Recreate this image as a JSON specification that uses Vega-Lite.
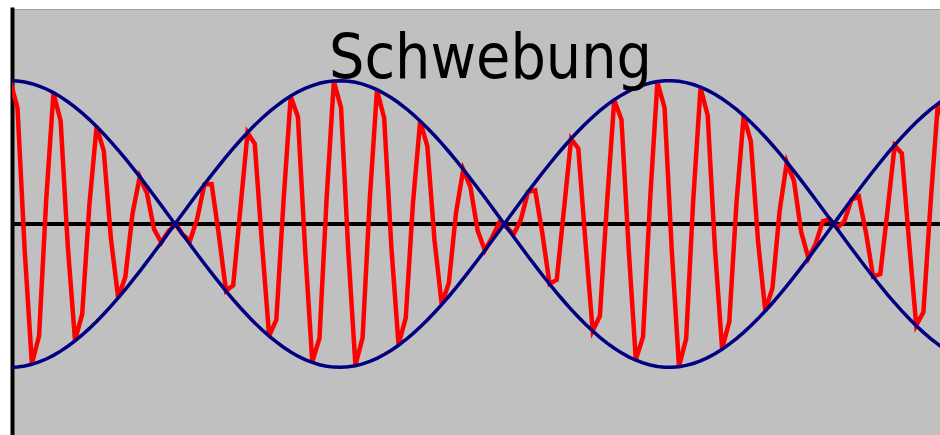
{
  "$schema": "https://vega.github.io/schema/vega-lite/v6.json",
  "width": 935,
  "height": 430,
  "autosize": {"type": "none"},
  "padding": {"left": 12, "top": 9, "right": 0, "bottom": 0},
  "background": "#ffffff",
  "title": {
    "text": "Schwebung",
    "font": "DejaVu Sans Condensed, DejaVu Sans",
    "fontSize": 62,
    "fontWeight": "normal",
    "color": "#000000",
    "anchor": "middle",
    "frame": "group",
    "baseline": "alphabetic",
    "offset": -72,
    "dx": 11,
    "dy": 59
  },
  "config": {
    "view": {"fill": "#c0c0c0", "stroke": "#a0a0a0", "strokeWidth": 1},
    "axisY": {
      "domain": true,
      "domainColor": "#000000",
      "domainWidth": 4,
      "domainCap": "square",
      "ticks": false,
      "labels": false,
      "grid": false
    }
  },
  "data": {
    "values": [
      {"t": 0, "signal": 1.992, "env_pos": 2.000, "env_neg": -2.000},
      {"t": 1, "signal": 1.620, "env_pos": 1.995, "env_neg": -1.995},
      {"t": 2, "signal": -0.365, "env_pos": 1.981, "env_neg": -1.981},
      {"t": 3, "signal": -1.950, "env_pos": 1.958, "env_neg": -1.958},
      {"t": 4, "signal": -1.563, "env_pos": 1.925, "env_neg": -1.925},
      {"t": 5, "signal": 0.347, "env_pos": 1.884, "env_neg": -1.884},
      {"t": 6, "signal": 1.826, "env_pos": 1.833, "env_neg": -1.833},
      {"t": 7, "signal": 1.440, "env_pos": 1.774, "env_neg": -1.774},
      {"t": 8, "signal": -0.314, "env_pos": 1.706, "env_neg": -1.706},
      {"t": 9, "signal": -1.624, "env_pos": 1.631, "env_neg": -1.631},
      {"t": 10, "signal": -1.257, "env_pos": 1.548, "env_neg": -1.548},
      {"t": 11, "signal": 0.268, "env_pos": 1.457, "env_neg": -1.457},
      {"t": 12, "signal": 1.355, "env_pos": 1.360, "env_neg": -1.360},
      {"t": 13, "signal": 1.020, "env_pos": 1.256, "env_neg": -1.256},
      {"t": 14, "signal": -0.211, "env_pos": 1.147, "env_neg": -1.147},
      {"t": 15, "signal": -1.027, "env_pos": 1.031, "env_neg": -1.031},
      {"t": 16, "signal": -0.741, "env_pos": 0.912, "env_neg": -0.912},
      {"t": 17, "signal": 0.145, "env_pos": 0.788, "env_neg": -0.788},
      {"t": 18, "signal": 0.657, "env_pos": 0.660, "env_neg": -0.660},
      {"t": 19, "signal": 0.430, "env_pos": 0.529, "env_neg": -0.529},
      {"t": 20, "signal": -0.073, "env_pos": 0.395, "env_neg": -0.395},
      {"t": 21, "signal": -0.259, "env_pos": 0.260, "env_neg": -0.260},
      {"t": 22, "signal": -0.100, "env_pos": 0.123, "env_neg": -0.123},
      {"t": 23, "signal": -0.003, "env_pos": -0.014, "env_neg": 0.014},
      {"t": 24, "signal": -0.150, "env_pos": -0.151, "env_neg": 0.151},
      {"t": 25, "signal": -0.233, "env_pos": -0.287, "env_neg": 0.287},
      {"t": 26, "signal": 0.078, "env_pos": -0.422, "env_neg": 0.422},
      {"t": 27, "signal": 0.553, "env_pos": -0.555, "env_neg": 0.555},
      {"t": 28, "signal": 0.556, "env_pos": -0.685, "env_neg": 0.685},
      {"t": 29, "signal": -0.149, "env_pos": -0.812, "env_neg": 0.812},
      {"t": 30, "signal": -0.932, "env_pos": -0.936, "env_neg": 0.936},
      {"t": 31, "signal": -0.857, "env_pos": -1.055, "env_neg": 1.055},
      {"t": 32, "signal": 0.215, "env_pos": -1.169, "env_neg": 1.169},
      {"t": 33, "signal": 1.272, "env_pos": -1.277, "env_neg": 1.277},
      {"t": 34, "signal": 1.121, "env_pos": -1.380, "env_neg": 1.380},
      {"t": 35, "signal": -0.272, "env_pos": -1.476, "env_neg": 1.476},
      {"t": 36, "signal": -1.559, "env_pos": -1.565, "env_neg": 1.565},
      {"t": 37, "signal": -1.337, "env_pos": -1.646, "env_neg": 1.646},
      {"t": 38, "signal": 0.316, "env_pos": -1.720, "env_neg": 1.720},
      {"t": 39, "signal": 1.779, "env_pos": -1.786, "env_neg": 1.786},
      {"t": 40, "signal": 1.497, "env_pos": -1.844, "env_neg": 1.844},
      {"t": 41, "signal": -0.348, "env_pos": -1.893, "env_neg": 1.893},
      {"t": 42, "signal": -1.924, "env_pos": -1.932, "env_neg": 1.932},
      {"t": 43, "signal": -1.594, "env_pos": -1.963, "env_neg": 1.963},
      {"t": 44, "signal": 0.365, "env_pos": -1.985, "env_neg": 1.985},
      {"t": 45, "signal": 1.989, "env_pos": -1.997, "env_neg": 1.997},
      {"t": 46, "signal": 1.624, "env_pos": -2.000, "env_neg": 2.000},
      {"t": 47, "signal": -0.367, "env_pos": -1.993, "env_neg": 1.993},
      {"t": 48, "signal": -1.969, "env_pos": -1.977, "env_neg": 1.977},
      {"t": 49, "signal": -1.585, "env_pos": -1.952, "env_neg": 1.952},
      {"t": 50, "signal": 0.353, "env_pos": -1.918, "env_neg": 1.918},
      {"t": 51, "signal": 1.867, "env_pos": -1.874, "env_neg": 1.874},
      {"t": 52, "signal": 1.479, "env_pos": -1.822, "env_neg": 1.822},
      {"t": 53, "signal": -0.324, "env_pos": -1.761, "env_neg": 1.761},
      {"t": 54, "signal": -1.685, "env_pos": -1.692, "env_neg": 1.692},
      {"t": 55, "signal": -1.311, "env_pos": -1.615, "env_neg": 1.615},
      {"t": 56, "signal": 0.282, "env_pos": -1.530, "env_neg": 1.530},
      {"t": 57, "signal": 1.432, "env_pos": -1.438, "env_neg": 1.438},
      {"t": 58, "signal": 1.088, "env_pos": -1.340, "env_neg": 1.340},
      {"t": 59, "signal": -0.227, "env_pos": -1.235, "env_neg": 1.235},
      {"t": 60, "signal": -1.120, "env_pos": -1.124, "env_neg": 1.124},
      {"t": 61, "signal": -0.818, "env_pos": -1.008, "env_neg": 1.008},
      {"t": 62, "signal": 0.163, "env_pos": -0.887, "env_neg": 0.887},
      {"t": 63, "signal": 0.759, "env_pos": -0.762, "env_neg": 0.762},
      {"t": 64, "signal": 0.515, "env_pos": -0.634, "env_neg": 0.634},
      {"t": 65, "signal": -0.092, "env_pos": -0.502, "env_neg": 0.502},
      {"t": 66, "signal": -0.368, "env_pos": -0.369, "env_neg": 0.369},
      {"t": 67, "signal": -0.189, "env_pos": -0.233, "env_neg": 0.233},
      {"t": 68, "signal": 0.018, "env_pos": -0.096, "env_neg": 0.096},
      {"t": 69, "signal": -0.041, "env_pos": 0.041, "env_neg": -0.041},
      {"t": 70, "signal": -0.145, "env_pos": 0.178, "env_neg": -0.178},
      {"t": 71, "signal": 0.058, "env_pos": 0.314, "env_neg": -0.314},
      {"t": 72, "signal": 0.447, "env_pos": 0.449, "env_neg": -0.449},
      {"t": 73, "signal": 0.472, "env_pos": 0.581, "env_neg": -0.581},
      {"t": 74, "signal": -0.131, "env_pos": 0.711, "env_neg": -0.711},
      {"t": 75, "signal": -0.834, "env_pos": 0.837, "env_neg": -0.837},
      {"t": 76, "signal": -0.780, "env_pos": 0.960, "env_neg": -0.960},
      {"t": 77, "signal": 0.198, "env_pos": 1.078, "env_neg": -1.078},
      {"t": 78, "signal": 1.186, "env_pos": 1.191, "env_neg": -1.191},
      {"t": 79, "signal": 1.054, "env_pos": 1.298, "env_neg": -1.298},
      {"t": 80, "signal": -0.257, "env_pos": 1.399, "env_neg": -1.399},
      {"t": 81, "signal": -1.488, "env_pos": 1.494, "env_neg": -1.494},
      {"t": 82, "signal": -1.285, "env_pos": 1.582, "env_neg": -1.582},
      {"t": 83, "signal": 0.306, "env_pos": 1.662, "env_neg": -1.662},
      {"t": 84, "signal": 1.727, "env_pos": 1.734, "env_neg": -1.734},
      {"t": 85, "signal": 1.460, "env_pos": 1.798, "env_neg": -1.798},
      {"t": 86, "signal": -0.341, "env_pos": 1.854, "env_neg": -1.854},
      {"t": 87, "signal": -1.893, "env_pos": 1.901, "env_neg": -1.901},
      {"t": 88, "signal": -1.574, "env_pos": 1.939, "env_neg": -1.939},
      {"t": 89, "signal": 0.362, "env_pos": 1.968, "env_neg": -1.968},
      {"t": 90, "signal": 1.980, "env_pos": 1.988, "env_neg": -1.988},
      {"t": 91, "signal": 1.622, "env_pos": 1.998, "env_neg": -1.998},
      {"t": 92, "signal": -0.368, "env_pos": 1.999, "env_neg": -1.999},
      {"t": 93, "signal": -1.983, "env_pos": 1.991, "env_neg": -1.991},
      {"t": 94, "signal": -1.602, "env_pos": 1.973, "env_neg": -1.973},
      {"t": 95, "signal": 0.358, "env_pos": 1.946, "env_neg": -1.946},
      {"t": 96, "signal": 1.902, "env_pos": 1.910, "env_neg": -1.910},
      {"t": 97, "signal": 1.514, "env_pos": 1.865, "env_neg": -1.865},
      {"t": 98, "signal": -0.333, "env_pos": 1.811, "env_neg": -1.811},
      {"t": 99, "signal": -1.741, "env_pos": 1.748, "env_neg": -1.748},
      {"t": 100, "signal": -1.362, "env_pos": 1.677, "env_neg": -1.677},
      {"t": 101, "signal": 0.294, "env_pos": 1.599, "env_neg": -1.599},
      {"t": 102, "signal": 1.506, "env_pos": 1.512, "env_neg": -1.512},
      {"t": 103, "signal": 1.152, "env_pos": 1.419, "env_neg": -1.419},
      {"t": 104, "signal": -0.243, "env_pos": 1.320, "env_neg": -1.320},
      {"t": 105, "signal": -1.208, "env_pos": 1.213, "env_neg": -1.213},
      {"t": 106, "signal": -0.895, "env_pos": 1.102, "env_neg": -1.102},
      {"t": 107, "signal": 0.181, "env_pos": 0.985, "env_neg": -0.985},
      {"t": 108, "signal": 0.860, "env_pos": 0.863, "env_neg": -0.863},
      {"t": 109, "signal": 0.598, "env_pos": 0.737, "env_neg": -0.737},
      {"t": 110, "signal": -0.112, "env_pos": 0.608, "env_neg": -0.608},
      {"t": 111, "signal": -0.474, "env_pos": 0.476, "env_neg": -0.476},
      {"t": 112, "signal": -0.278, "env_pos": 0.342, "env_neg": -0.342},
      {"t": 113, "signal": 0.038, "env_pos": 0.206, "env_neg": -0.206},
      {"t": 114, "signal": 0.069, "env_pos": 0.069, "env_neg": -0.069},
      {"t": 115, "signal": -0.055, "env_pos": -0.068, "env_neg": 0.068},
      {"t": 116, "signal": 0.038, "env_pos": -0.205, "env_neg": 0.205},
      {"t": 117, "signal": 0.340, "env_pos": -0.341, "env_neg": 0.341},
      {"t": 118, "signal": 0.386, "env_pos": -0.475, "env_neg": 0.475},
      {"t": 119, "signal": -0.112, "env_pos": -0.607, "env_neg": 0.607},
      {"t": 120, "signal": -0.733, "env_pos": -0.736, "env_neg": 0.736},
      {"t": 121, "signal": -0.700, "env_pos": -0.862, "env_neg": 0.862},
      {"t": 122, "signal": 0.181, "env_pos": -0.984, "env_neg": 0.984},
      {"t": 123, "signal": 1.096, "env_pos": -1.100, "env_neg": 1.100},
      {"t": 124, "signal": 0.984, "env_pos": -1.212, "env_neg": 1.212},
      {"t": 125, "signal": -0.243, "env_pos": -1.319, "env_neg": 1.319},
      {"t": 126, "signal": -1.413, "env_pos": -1.419, "env_neg": 1.419},
      {"t": 127, "signal": -1.228, "env_pos": -1.512, "env_neg": 1.512},
      {"t": 128, "signal": 0.294, "env_pos": -1.598, "env_neg": 1.598},
      {"t": 129, "signal": 1.670, "env_pos": -1.677, "env_neg": 1.677},
      {"t": 130, "signal": 1.419, "env_pos": -1.748, "env_neg": 1.748}
    ]
  },
  "layer": [
    {
      "mark": {"type": "rule", "color": "#000000", "strokeWidth": 3},
      "encoding": {
        "y": {"datum": 0, "type": "quantitative", "scale": {"domain": [-3, 3], "nice": false, "zero": false}, "title": null}
      }
    },
    {
      "mark": {"type": "line", "color": "#ff0000", "strokeWidth": 4.5, "clip": true},
      "encoding": {
        "x": {"field": "t", "type": "quantitative", "scale": {"domain": [0.236, 130.28], "nice": false, "zero": false}, "axis": null},
        "y": {"field": "signal", "type": "quantitative", "scale": {"domain": [-3, 3], "nice": false, "zero": false}, "title": null}
      }
    },
    {
      "mark": {"type": "line", "color": "#000080", "strokeWidth": 3.5, "clip": true},
      "encoding": {
        "x": {"field": "t", "type": "quantitative", "scale": {"domain": [0.236, 130.28], "nice": false, "zero": false}, "axis": null},
        "y": {"field": "env_pos", "type": "quantitative", "scale": {"domain": [-3, 3], "nice": false, "zero": false}, "title": null}
      }
    },
    {
      "mark": {"type": "line", "color": "#000080", "strokeWidth": 3.5, "clip": true},
      "encoding": {
        "x": {"field": "t", "type": "quantitative", "scale": {"domain": [0.236, 130.28], "nice": false, "zero": false}, "axis": null},
        "y": {"field": "env_neg", "type": "quantitative", "scale": {"domain": [-3, 3], "nice": false, "zero": false}, "title": null}
      }
    }
  ]
}
